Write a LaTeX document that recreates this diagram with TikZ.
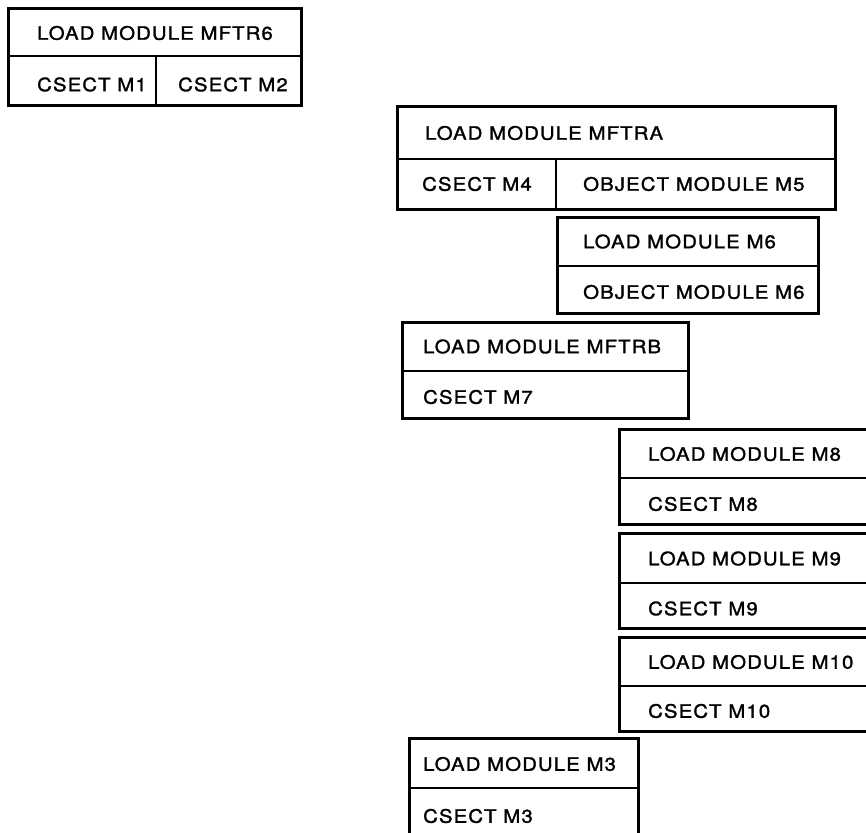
\documentclass[tikz,border=0pt]{standalone}
\usepackage{fontspec}
\setmainfont{TeX Gyre Heros}
\newfontfamily\labfont{TeX Gyre Heros}[LetterSpace=6,FakeStretch=1.1,FakeBold=1.5]
\begin{document}
\begin{tikzpicture}[x=1pt,y=-1pt]
\tikzset{
  frame/.style={draw, line width=3pt},
  divl/.style={draw, line width=1.7pt},
  lab/.style={anchor=west, inner sep=0pt, font=\labfont\fontsize{18.5}{20}\selectfont}
}
\useasboundingbox (0,0) rectangle (866,832);
\clip (0,0) rectangle (866,832);
% Box 1: LOAD MODULE MFTR6
\draw[frame] (8,9) rectangle (301,106);
\draw[divl] (8,56) -- (301,56);
\draw[divl] (156,56) -- (156,106);
\node[lab] (mftr6) at (37,33) {LOAD MODULE MFTR6};
\node[lab] (m1) at (37,84.5) {CSECT M1};
\node[lab] (m2) at (178,84.5) {CSECT M2};
% Box 2: LOAD MODULE MFTRA
\draw[frame] (397,107) rectangle (835,209);
\draw[divl] (397,159) -- (835,159);
\draw[divl] (556,159) -- (556,209);
\node[lab] (mftra) at (425,133) {LOAD MODULE MFTRA};
\node[lab] (m4) at (422,184) {CSECT M4};
\node[lab] (m5) at (583,184) {OBJECT MODULE M5};
% Box 3: LOAD MODULE M6
\draw[frame] (557,217) rectangle (818,313);
\draw[divl] (557,266) -- (818,266);
\node[lab] (lm6) at (583,241.5) {LOAD MODULE M6};
\node[lab] (om6) at (583,292) {OBJECT MODULE M6};
% Box 4: LOAD MODULE MFTRB
\draw[frame] (402,322) rectangle (688,418);
\draw[divl] (402,371) -- (688,371);
\node[lab] (mftrb) at (423,346.5) {LOAD MODULE MFTRB};
\node[lab] (m7) at (423,397) {CSECT M7};
% Box 5: LOAD MODULE M8
\draw[frame] (619,429) rectangle (880,524);
\draw[divl] (619,478) -- (880,478);
\node[lab] (lm8) at (648,454) {LOAD MODULE M8};
\node[lab] (cm8) at (648,504) {CSECT M8};
% Box 6: LOAD MODULE M9
\draw[frame] (619,533) rectangle (880,628);
\draw[divl] (619,583) -- (880,583);
\node[lab] (lm9) at (648,558.5) {LOAD MODULE M9};
\node[lab] (cm9) at (648,608.5) {CSECT M9};
% Box 7: LOAD MODULE M10
\draw[frame] (619,637) rectangle (880,731);
\draw[divl] (619,686) -- (880,686);
\node[lab] (lm10) at (648,662) {LOAD MODULE M10};
\node[lab] (cm10) at (648,711) {CSECT M10};
% Box 8: LOAD MODULE M3
\draw[frame] (409,738) rectangle (638,850);
\draw[divl] (409,788) -- (638,788);
\node[lab] (lm3) at (423,764) {LOAD MODULE M3};
\node[lab] (cm3) at (423,816) {CSECT M3};
\end{tikzpicture}
\end{document}
